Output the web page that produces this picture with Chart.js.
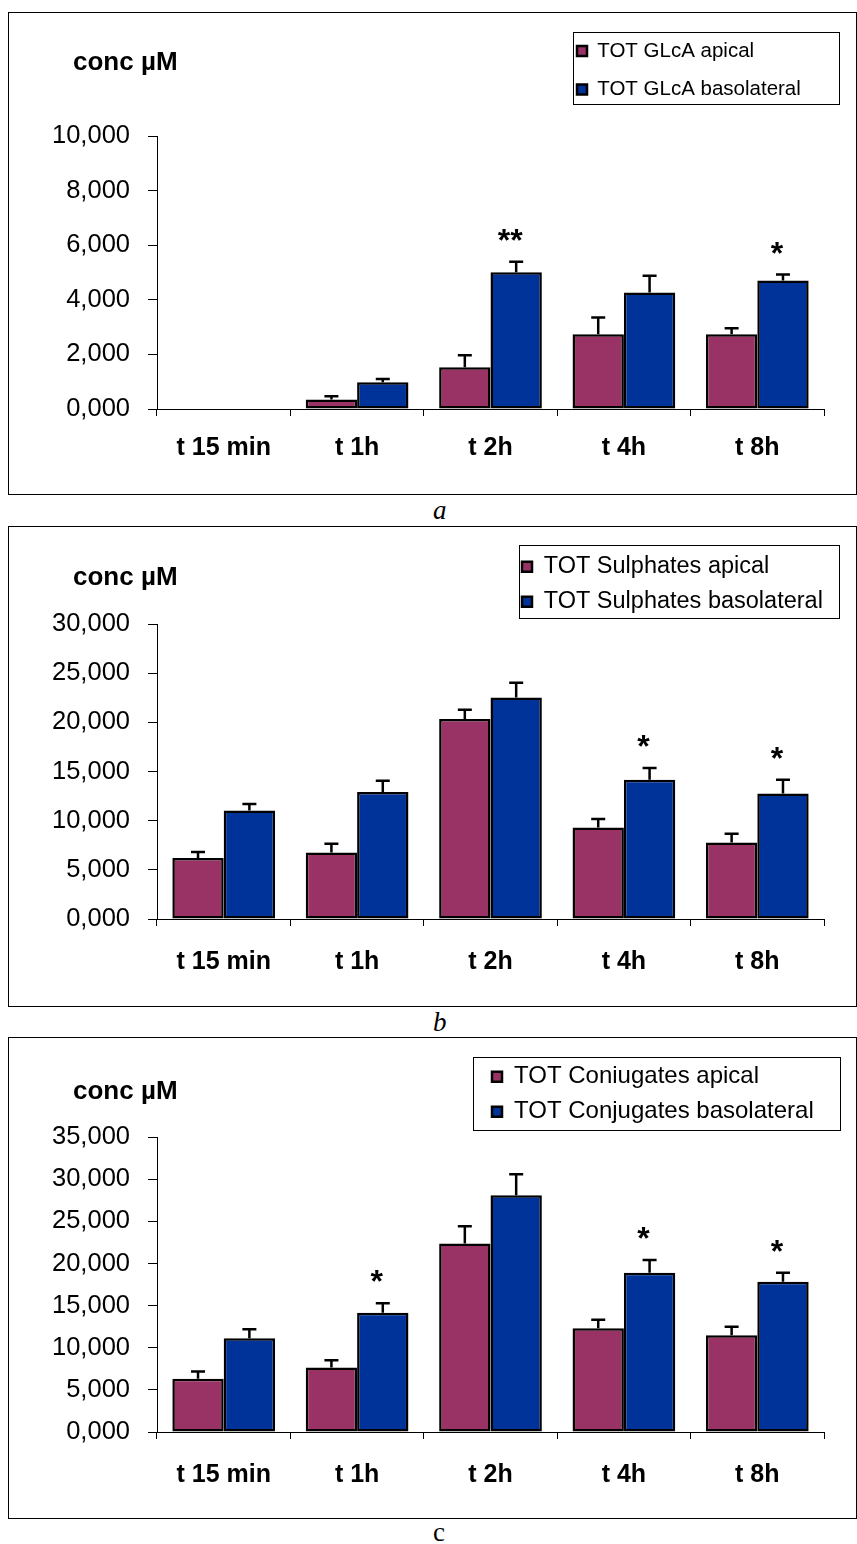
<!DOCTYPE html>
<html>
<head>
<meta charset="utf-8">
<title>Total conjugates – apical vs basolateral</title>
<script src="https://cdn.jsdelivr.net/npm/chart.js@4.4.1/dist/chart.umd.min.js"></script>
<style>
  html, body { margin:0; padding:0; background:#fff; }
  body { position:relative; width:857px; height:1544px; overflow:hidden; }
  .panel { position:absolute; left:8px; width:849px; border:1px solid #000; box-sizing:border-box; }
  .cap { position:absolute; left:433px; font-family:'Liberation Serif','Times New Roman',serif; font-size:27px; line-height:27px; color:#000; }
  canvas { position:absolute; left:9px; }
</style>
</head>
<body>
<div class="panel" style="top:12px;height:483px"></div>
<div class="cap" style="top:497px;font-style:italic">a</div>
<div class="panel" style="top:526px;height:481px"></div>
<div class="cap" style="top:1009px;font-style:italic">b</div>
<div class="panel" style="top:1037px;height:482px"></div>
<div class="cap" style="top:1519px">c</div>
<canvas id="chartA" width="845" height="480" style="top:13px"></canvas>
<canvas id="chartB" width="845" height="478" style="top:527px"></canvas>
<canvas id="chartC" width="845" height="479" style="top:1038px"></canvas>
<script>
// ---------- data ----------
const categories = ['t 15 min', 't 1h', 't 2h', 't 4h', 't 8h'];

// panel a: total glucuronides
const glcaLabels    = ['TOT GLcA apical', 'TOT GLcA basolateral'];
const glcaApical    = [0, 0.35, 1.53, 2.74, 2.74];
const glcaApicalErr = [0, 0.12, 0.44, 0.61, 0.22];
const glcaBaso      = [0, 0.98, 5.01, 4.27, 4.71];
const glcaBasoErr   = [0, 0.12, 0.39, 0.61, 0.22];
const glcaStars     = ['', '', '**', '', '*'];
const glcaTicks     = [0, 2, 4, 6, 8, 10];

// panel b: total sulphates
const sulLabels    = ['TOT Sulphates apical', 'TOT Sulphates basolateral'];
const sulApical    = [6.20, 6.78, 20.35, 9.32, 7.79];
const sulApicalErr = [0.62, 0.88, 0.94, 0.85, 0.89];
const sulBaso      = [11.05, 12.92, 22.54, 14.17, 12.78];
const sulBasoErr   = [0.65, 1.15, 1.50, 1.19, 1.39];
const sulStars     = ['', '', '', '*', '*'];
const sulTicks     = [0, 5, 10, 15, 20, 25, 30];

// panel c: total conjugates
const conLabels    = ['TOT Coniugates apical', 'TOT Conjugates basolateral'];
const conApical    = [6.32, 7.65, 22.39, 12.32, 11.49];
const conApicalErr = [0.86, 0.88, 2.05, 1.02, 1.02];
const conBaso      = [11.14, 14.17, 28.12, 18.91, 17.84];
const conBasoErr   = [1.06, 1.11, 2.48, 1.50, 1.07];
const conStars     = ['', '*', '', '*', '*'];
const conTicks     = [0, 5, 10, 15, 20, 25, 30, 35];

// ---------- styling ----------
const APICAL = '#993366';
const BASO = '#003399';
const FONT = "'Liberation Sans', Arial, Helvetica, sans-serif";
Chart.defaults.font.family = FONT;
Chart.defaults.color = '#000';

function fmt(v) { return Number(v).toFixed(3).replace('.', ','); }

function drawPanel(id, d, lay) {
  const overlay = {
    id: 'overlay',
    afterLayout(chart) {
      if (chart.titleBlock) {
        chart.titleBlock.left = lay.titleX;
      }
      const lg = chart.legend;
      if (!lg) return;
      const pad = lg.options.labels.padding;
      const ih = Math.max(lay.legendFont, 10);
      lg.left = lay.legendX - pad;
      lg.top = lay.legendY - ih / 2 - pad;
      lg.right = lg.left + lg.width;
      lg.bottom = lg.top + lg.height;
    },
    afterDatasetsDraw(chart) {
      const c = chart.ctx;
      const ys = chart.scales.y;
      const series = [[d.apical, d.apicalErr], [d.baso, d.basoErr]];
      c.save();
      c.strokeStyle = '#000';
      c.lineWidth = 2.5;
      series.forEach((s, di) => {
        chart.getDatasetMeta(di).data.forEach((bar, i) => {
          const e = s[1][i];
          if (!e) return;
          const yBar = ys.getPixelForValue(s[0][i]);
          const yTop = ys.getPixelForValue(s[0][i] + e);
          c.beginPath();
          c.moveTo(bar.x, yBar); c.lineTo(bar.x, yTop);
          c.moveTo(bar.x - 7, yTop); c.lineTo(bar.x + 7, yTop);
          c.stroke();
        });
      });
      c.fillStyle = '#000';
      c.font = 'bold 32px ' + FONT;
      c.textAlign = 'center';
      c.textBaseline = 'alphabetic';
      const meta = chart.getDatasetMeta(1);
      d.stars.forEach((st, i) => {
        if (!st) return;
        const bar = meta.data[i];
        const yTop = ys.getPixelForValue(d.baso[i] + d.basoErr[i]);
        c.fillText(st, bar.x - 6, yTop - 11);
      });
      c.restore();
    },
    afterDraw(chart) {
      const c = chart.ctx;
      const b = lay.legendBox;
      c.save();
      c.strokeStyle = '#000';
      c.lineWidth = 1;
      c.strokeRect(b[0] + 0.5, b[1] + 0.5, b[2] - b[0], b[3] - b[1]);
      c.restore();
    }
  };

  new Chart(document.getElementById(id), {
    type: 'bar',
    data: {
      labels: categories,
      datasets: [
        { label: d.labels[0], data: d.apical, backgroundColor: APICAL, borderColor: '#000', borderWidth: 2.5, borderSkipped: false,
          categoryPercentage: 0.77, barPercentage: 1.0 },
        { label: d.labels[1], data: d.baso, backgroundColor: BASO, borderColor: '#000', borderWidth: 2.5, borderSkipped: false,
          categoryPercentage: 0.77, barPercentage: 1.0 }
      ]
    },
    options: {
      responsive: false,
      animation: false,
      events: [],
      layout: { padding: { left: 20, right: 30, top: 0, bottom: 0 } },
      plugins: {
        tooltip: { enabled: false },
        title: {
          display: true, text: 'conc µM', align: 'start', color: '#000',
          font: { size: 26, weight: 'bold', lineHeight: 1.2 },
          padding: { top: lay.titleTop, bottom: lay.titleBottom }
        },
        legend: {
          display: true, position: 'chartArea', align: 'start',
          labels: {
            color: '#000', boxWidth: 10, boxHeight: 10,
            padding: lay.rowGap - lay.legendFont,
            font: { size: lay.legendFont }
          }
        }
      },
      scales: {
        x: {
          offset: true,
          grid: { offset: true, drawOnChartArea: false, drawTicks: true, tickLength: 7, color: '#000', lineWidth: 1 },
          border: { display: true, color: '#000', width: 1 },
          ticks: { color: '#000', padding: lay.xPad, maxRotation: 0, font: { size: 25, weight: 'bold', lineHeight: 1.2 } },
          afterFit: (s) => { s.height = lay.xHeight; }
        },
        y: {
          min: 0, max: d.ticks[d.ticks.length - 1],
          afterBuildTicks: (s) => { s.ticks = d.ticks.map(v => ({ value: v })); },
          grid: { drawOnChartArea: false, drawTicks: true, tickLength: 9, color: '#000', lineWidth: 1 },
          border: { display: true, color: '#000', width: 1 },
          ticks: { color: '#000', padding: 18, font: { size: 25.5 }, callback: (v) => fmt(v) },
          afterFit: (s) => { s.width = 128; }
        }
      }
    },
    plugins: [overlay]
  });
}

drawPanel('chartA',
  { labels: glcaLabels, apical: glcaApical, apicalErr: glcaApicalErr, baso: glcaBaso, basoErr: glcaBasoErr, stars: glcaStars, ticks: glcaTicks },
  { titleX: 64, titleTop: 34, titleBottom: 58, xHeight: 84, xPad: 17, legendFont: 20.5, rowGap: 38.5, legendX: 568, legendY: 38, legendBox: [564, 19, 830, 91] });

drawPanel('chartB',
  { labels: sulLabels, apical: sulApical, apicalErr: sulApicalErr, baso: sulBaso, basoErr: sulBasoErr, stars: sulStars, ticks: sulTicks },
  { titleX: 64, titleTop: 35, titleBottom: 31, xHeight: 86, xPad: 21, legendFont: 23.5, rowGap: 35, legendX: 513, legendY: 39.7, legendBox: [510, 18, 830, 91] });

drawPanel('chartC',
  { labels: conLabels, apical: conApical, apicalErr: conApicalErr, baso: conBaso, basoErr: conBasoErr, stars: conStars, ticks: conTicks },
  { titleX: 64, titleTop: 38, titleBottom: 30, xHeight: 85, xPad: 21, legendFont: 24, rowGap: 35, legendX: 483, legendY: 38.7, legendBox: [464, 19, 831, 92] });
</script>
</body>
</html>
